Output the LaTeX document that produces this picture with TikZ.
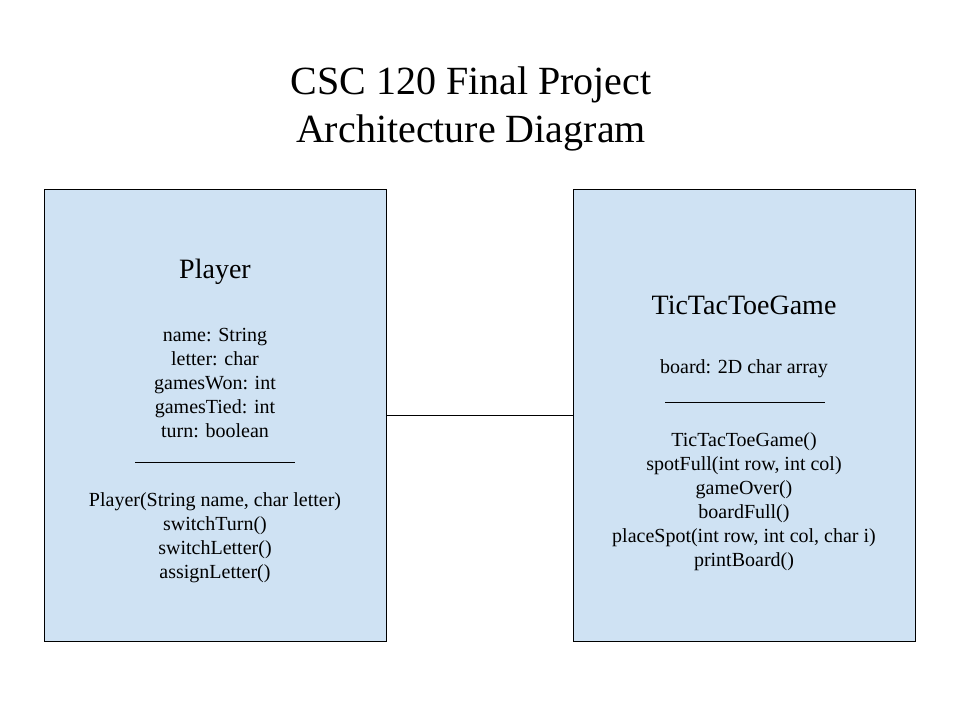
\documentclass[tikz,border=0pt]{standalone}
\usepackage{fontspec}
\setmainfont{Liberation Serif}
\usepackage{xcolor}
\definecolor{boxblue}{RGB}{207,226,243}

\begin{document}
\begin{tikzpicture}[x=0.75pt,y=-0.75pt,
  classbox/.style={draw=black, line width=0.75pt, fill=boxblue,
    minimum width=256.5pt, minimum height=338.25pt, inner sep=0pt},
  classname/.style={font=\fontsize{21}{25}\selectfont, inner sep=0pt},
  members/.style={font=\fontsize{15}{18}\selectfont, align=center, inner sep=0pt}]
\useasboundingbox (0,0) rectangle (960,720);
\node[font=\fontsize{30}{36}\selectfont, align=center, inner sep=0pt] (title) at (471,109) {CSC 120 Final Project\\Architecture Diagram};
% the two classes
\node[classbox] (player) at (215,415.5) {};
\node[classbox] (game) at (744,415.5) {};
\draw[line width=0.75pt] (player.east) -- (game.west);
% Player
\node[classname] (playername) at (215,272) {Player};
\node[members] (playerfields) at (215,383) {name: String\\letter: char\\gamesWon: int\\gamesTied: int\\turn: boolean};
\draw[line width=0.6pt] (135,462) -- (295,462);
\node[members] (playermethods) at (215,538) {Player(String name, char letter)\\switchTurn()\\switchLetter()\\assignLetter()};
% TicTacToeGame
\node[classname] (gamename) at (744,305) {TicTacToeGame};
\node[members] (gamefields) at (744,369) {board: 2D char array};
\draw[line width=0.6pt] (665,402) -- (825,402);
\node[members] (gamemethods) at (744,502) {TicTacToeGame()\\spotFull(int row, int col)\\gameOver()\\boardFull()\\placeSpot(int row, int col, char i)\\printBoard()};
\end{tikzpicture}
\end{document}
